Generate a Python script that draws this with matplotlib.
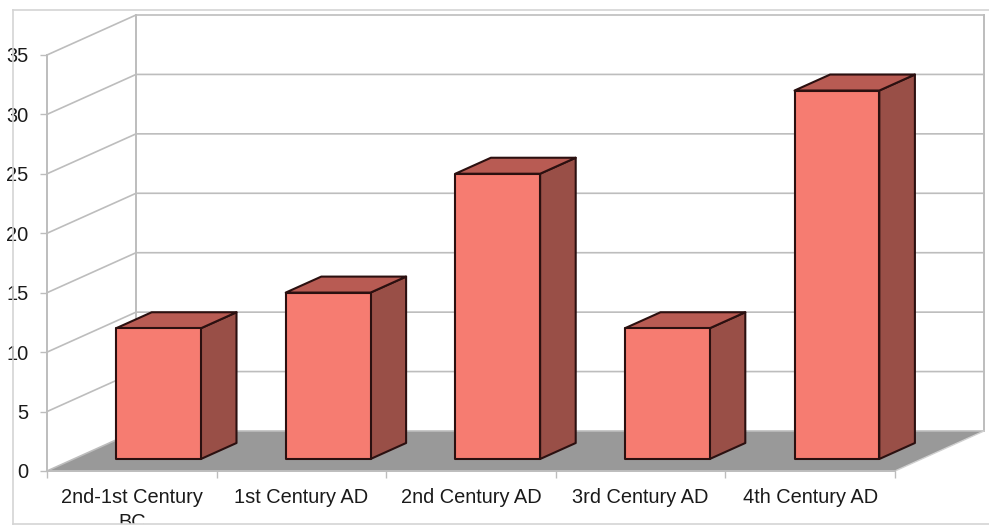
import matplotlib
matplotlib.use("Agg")
import matplotlib.pyplot as plt
from matplotlib.patches import Polygon, Rectangle

plt.rcParams["font.family"] = ["Liberation Sans", "DejaVu Sans"]

categories = ["2nd-1st Century\nBC", "1st Century AD", "2nd Century AD", "3rd Century AD", "4th Century AD"]
values = [11, 14, 24, 11, 31]
y_ticks = [0, 5, 10, 15, 20, 25, 30, 35]

W, H = 989, 525
GRID = "#bdbdbd"
FLOOR = "#999999"
FRONT = "#f67c71"
TOP = "#b85b53"
SIDE = "#994f47"
EDGE = "#2b1010"
FONT_SIZE = 14.4

fig = plt.figure(figsize=(W / 100, H / 100), dpi=100)
ax = fig.add_axes([47 / W, 1 - 471 / H, 848 / W, 416 / H])
ax.set_xlim(0, 5)
ax.set_ylim(0, 35)
ax.patch.set_visible(False)

# Oblique projection: full chart depth expressed in data units
DX = 89 / 848 * 5
DY = 40 / 416 * 35


def proj(x, y, d):
    return (x + d * DX, y + d * DY)


def poly(points, **kw):
    ax.add_patch(Polygon(points, closed=True, clip_on=False, **kw))


# Floor, walls and gridlines
poly([proj(0, 0, 0), proj(5, 0, 0), proj(5, 0, 1), proj(0, 0, 1)], facecolor=FLOOR, edgecolor="none", zorder=1)
for v in y_ticks:
    a, b, c = proj(0, v, 0), proj(0, v, 1), proj(5, v, 1)
    ax.plot([a[0], b[0], c[0]], [a[1], b[1], c[1]], color=GRID, lw=1.2, clip_on=False, zorder=1.5)
for x in (0, 5):
    a, b = proj(x, 0, 1), proj(x, y_ticks[-1], 1)
    ax.plot([a[0], b[0]], [a[1], b[1]], color=GRID, lw=1.4, clip_on=False, zorder=1.5)
a, b = proj(5, 0, 0), proj(5, 0, 1)
ax.plot([a[0], b[0]], [a[1], b[1]], color="#d0d0d0", lw=1, clip_on=False, zorder=1.5)

# Bars as three visible faces of a box
BAR_W = 0.5
D0, D1 = 0.30, 0.70
for i, v in enumerate(values):
    x0 = i + (1 - BAR_W) / 2
    x1 = x0 + BAR_W
    style = dict(edgecolor=EDGE, linewidth=1.5, joinstyle="round", zorder=3)
    poly([proj(x1, 0, D0), proj(x1, 0, D1), proj(x1, v, D1), proj(x1, v, D0)], facecolor=SIDE, **style)
    poly([proj(x0, v, D0), proj(x1, v, D0), proj(x1, v, D1), proj(x0, v, D1)], facecolor=TOP, **style)
    poly([proj(x0, 0, D0), proj(x1, 0, D0), proj(x1, v, D0), proj(x0, v, D0)], facecolor=FRONT, **style)

# Axes furniture
for s in ("top", "right"):
    ax.spines[s].set_visible(False)
for s in ("left", "bottom"):
    ax.spines[s].set_color(GRID)
    ax.spines[s].set_linewidth(1.4)
    ax.spines[s].set_zorder(1.6)

ax.set_yticks(y_ticks)
ax.tick_params(axis="y", length=5, width=1, color=GRID, pad=8.5, labelsize=FONT_SIZE, labelcolor="#1a1a1a")
ax.set_xticks(range(6))
ax.set_xticklabels([])
ax.tick_params(axis="x", which="major", length=5, width=1, color=GRID)
ax.set_xticks([i + 0.5 for i in range(5)], minor=True)
ax.set_xticklabels(categories, minor=True, fontsize=FONT_SIZE, color="#1a1a1a", linespacing=1.35)
ax.tick_params(axis="x", which="minor", length=0, pad=12.5)

# Outer chart frame, open on the right; it trims the wrapped label below
clip = Rectangle((0, 1 / H), 1, 1, transform=fig.transFigure)
for lab in ax.get_xticklabels(minor=True):
    lab.set_clip_path(clip)
    lab.set_clip_on(True)
frame = "#d4d4d4"
fig.add_artist(plt.Line2D([12.5 / W, 12.5 / W], [1 / H, 1 - 9.5 / H], color=frame, lw=1.2, zorder=0.5))
fig.add_artist(plt.Line2D([12.5 / W, 1], [1 - 9.5 / H, 1 - 9.5 / H], color=frame, lw=1.2, zorder=0.5))
fig.add_artist(plt.Line2D([12.5 / W, 1], [1 / H, 1 / H], color=frame, lw=1.2, zorder=5))

fig.savefig("out.png", dpi=100, facecolor="white")
